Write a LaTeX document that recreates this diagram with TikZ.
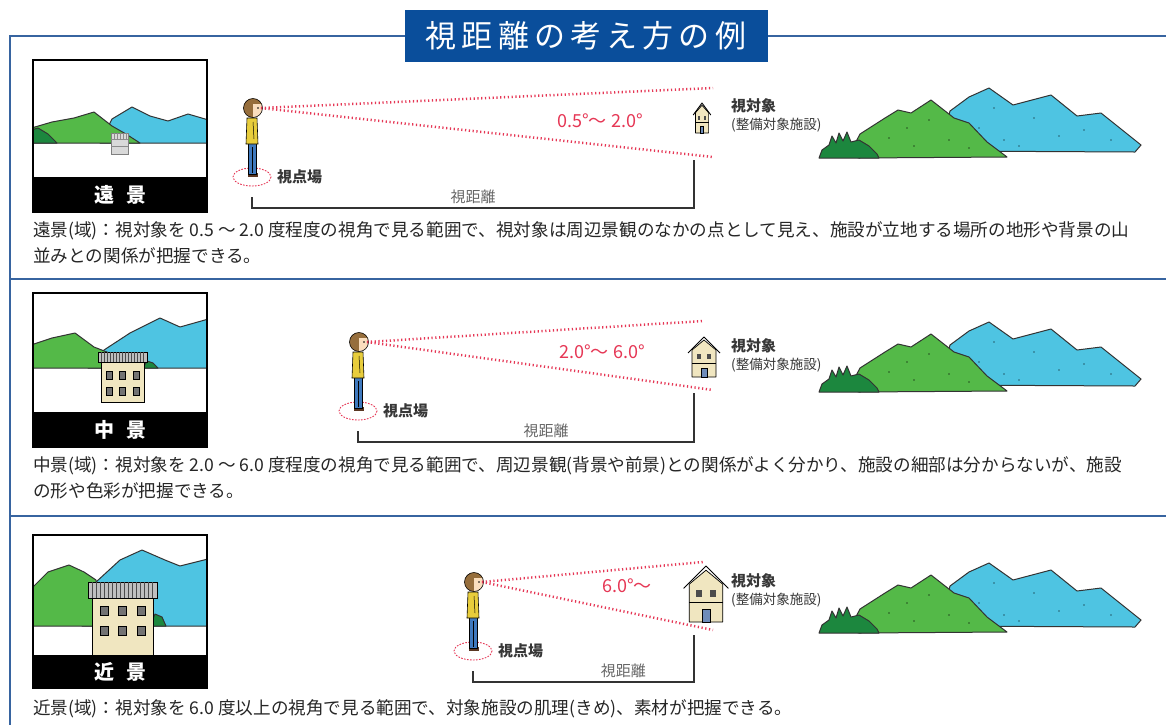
\documentclass[tikz,border=0pt]{standalone}
\usepackage{fontspec}
\setmainfont{Noto Sans CJK JP}
\usetikzlibrary{positioning}

\definecolor{frameblue}{RGB}{55,100,160}
\definecolor{titleblue}{RGB}{10,78,155}
\definecolor{hillgreen}{RGB}{84,185,72}
\definecolor{bushgreen}{RGB}{28,135,62}
\definecolor{hillblue}{RGB}{78,196,226}
\definecolor{sightred}{RGB}{230,55,85}
\definecolor{wallbeige}{RGB}{240,230,192}
\definecolor{jacket}{RGB}{232,205,60}
\definecolor{jeans}{RGB}{63,121,190}
\definecolor{hair}{RGB}{150,110,60}
\definecolor{skin}{RGB}{250,222,190}
\definecolor{shoe}{RGB}{90,55,35}
\definecolor{doorblue}{RGB}{110,140,185}
\definecolor{textgray}{RGB}{55,55,55}

\tikzset{
  % standing person, origin at the feet
  viewer/.pic={
    \draw[sightred, line width=0.9pt, dash pattern=on 1.6pt off 1.4pt] (0,0) ellipse (19 and 9);
    \coordinate (-ring) at (19,0);
    \coordinate (-post) at (0,20);
    \coordinate (-eye) at (9,-69);
    \fill[shoe] (-4,-4) rectangle (6,0);
    \draw[fill=jeans, line width=0.6pt] (-4,-35) rectangle (4,-3);
    \draw[line width=0.4pt] (0,-30) -- (0,-4);
    \draw[fill=jacket, line width=0.6pt] (-5,-59) -- (5,-59) -- (6,-33) -- (-6,-33) -- cycle;
    \draw[line width=0.5pt] (1,-55) -- (2,-38);
    \begin{scope}
      \clip (1,-69) circle (9.5);
      \fill[skin] (-9,-80) rectangle (11,-58);
      \fill[hair] (-9,-80) rectangle (11,-73);
      \fill[hair] (-9,-80) rectangle (1,-58);
    \end{scope}
    \draw[line width=0.6pt] (1,-69) circle (9.5);
    \fill (6,-69) circle (0.9);
  },
  % small two-storey house, origin at the bottom centre
  house/.pic={
    \draw[fill=wallbeige, line width=0.7pt, line join=round] (-12,0) -- (-12,-27) -- (0,-37) -- (12,-27) -- (12,0) -- cycle;
    \draw[line width=0.7pt] (-12,-14) -- (12,-14);
    \draw[line width=0.9pt, line join=round] (-16,-24) -- (0,-40) -- (16,-24);
    \fill[black!70] (-7,-23) rectangle (-3,-18);
    \fill[black!70] (3,-23) rectangle (7,-18);
    \draw[fill=doorblue, line width=0.5pt] (-3,0) rectangle (3,-9);
  },
  % hills behind the facility, origin at the left foot of the bush
  ridge/.pic={
    \draw[hill, fill=hillblue] (120,-7) -- (131,-47) -- (150,-61) -- (170,-70) -- (194,-53) -- (213,-58)
      -- (232,-63) -- (258,-42) -- (282,-45) -- (322,-13) -- (316,-6) -- cycle;
    \foreach \p in {(160,-30),(185,-18),(215,-40),(240,-22),(265,-28),(292,-18),(200,-12),(175,-50)}
      \fill[hillblue!50!black] \p circle (0.9);
    \draw[hill, fill=hillgreen] (30,-3) -- (41,-24) -- (66,-40) -- (79,-48) -- (92,-45) -- (112,-58)
      -- (135,-40) -- (150,-35) -- (168,-16) -- (188,-1) -- (40,0) -- cycle;
    \foreach \p in {(70,-20),(95,-12),(110,-38),(130,-18),(150,-10),(88,-30)}
      \fill[hillgreen!45!black] \p circle (0.9);
    \draw[hill, fill=bushgreen] (0,0) -- (3,-8) -- (10,-13) -- (13,-22) -- (17,-15) -- (20,-25) -- (24,-17)
      -- (28,-26) -- (32,-16) -- (40,-18) -- (50,-12) -- (58,-4) -- (60,0) -- cycle;
  }
}

\begin{document}
\begin{tikzpicture}[x=1pt, y=-1pt,
    rule/.style={draw=frameblue, line width=2.4pt},
    thumb/.style={draw=black, line width=1.6pt},
    hill/.style={draw=black!80, line width=1pt, line join=round},
    sight/.style={draw=sightred, line width=2.5pt, dash pattern=on 1.2pt off 2.6pt},
    gauge/.style={draw=black!80, line width=1.2pt},
    title/.style={fill=titleblue, text=white, minimum width=363pt, minimum height=52pt, inner sep=0pt,
      font=\fontsize{31}{31}\selectfont},
    badge/.style={text=white, font=\fontsize{20}{20}\selectfont\bfseries},
    spread/.style={text=sightred, font=\fontsize{18}{18}\selectfont},
    tag/.style={text=textgray, inner sep=1pt, font=\fontsize{15}{15}\selectfont\bfseries},
    dist/.style={text=black!60, inner sep=1pt, font=\fontsize{15}{15}\selectfont},
    obj/.style={text=textgray, inner sep=0pt, font=\fontsize{15}{15}\selectfont\bfseries},
    sub/.style={text=textgray, inner sep=0pt, font=\fontsize{13.5}{15}\selectfont},
    desc/.style={text=black!85, inner sep=0pt, align=left, font=\fontsize{17.6}{26}\selectfont}]

  \useasboundingbox (0,0) rectangle (1166,724);
  \fill[white] (0,0) rectangle (1166,724);

  % frame and heading
  \draw[rule] (1170,36) -- (10,36) -- (10,730);
  \draw[rule] (10,279) -- (1170,279);
  \draw[rule] (10,516) -- (1170,516);
  \node[title] (title) at (586,36) {視\,距\,離\,の\,考\,え\,方\,の\,例};

  % ---------- 遠景
  \begin{scope}
    \clip (33,60) rectangle (207,177);
    \draw[hill, fill=hillblue] (100,143) -- (112,119) -- (132,107) -- (150,116) -- (168,121) -- (188,114) -- (212,121) -- (212,143) -- cycle;
    \draw[hill, fill=hillgreen] (28,129) -- (52,122) -- (74,118) -- (94,112) -- (112,126) -- (126,134) -- (140,143) -- (28,143) -- cycle;
    \draw[hill, fill=bushgreen] (28,131) -- (38,128) -- (48,134) -- (57,143) -- (28,143) -- cycle;
    \draw[fill=black!15, draw=black!50, line width=0.5pt] (111,133) rectangle (128,154);
    \foreach \x in {114,117,...,126} \draw[black!45, line width=0.4pt] (\x,133) -- (\x,139);
    \draw[black!45, line width=0.4pt] (111,139) -- (128,139) (111,146) -- (128,146);
  \end{scope}
  \fill[black] (33,177) rectangle (207,212);
  \draw[thumb] (33,60) rectangle (207,212);
  \node[badge] (b1) at (120,194.5) {遠\hspace{0.6em}景};

  \pic (v1) at (252,177) {viewer};
  \pic[xscale=0.55, yscale=0.75] (h1) at (702,133) {house};
  \pic (m1) at (819,158) {ridge};
  \coordinate (s1a) at (713,88);
  \coordinate (s1b) at (713,157);
  \coordinate (r1) at (694,160);
  \draw[sight] (v1-eye) -- (s1a);
  \draw[sight] (v1-eye) -- (s1b);
  \node[spread] (a1) at (600,121) {0.5°～ 2.0°};
  \node[tag, right=5pt of v1-ring] (p1) {視点場};
  \draw[gauge] (v1-post) -- ++(0,11) -| node[pos=0.25, above=3pt, dist] (d1) {視距離} (r1);
  \node[obj, anchor=west] (o1) at (731,106) {視対象};
  \node[sub, below=4pt of o1.south west, anchor=north west] (o1s) {(整備対象施設)};
  \node[desc, anchor=north west] (n1) at (33,221)
    {遠景(域)：視対象を 0.5 ～ 2.0 度程度の視角で見る範囲で、視対象は周辺景観のなかの点として見え、施設が立地する場所の地形や背景の山\\並みとの関係が把握できる。};

  % ---------- 中景
  \begin{scope}
    \clip (33,293) rectangle (207,412);
    \draw[hill, fill=hillblue] (88,368) -- (104,350) -- (130,333) -- (160,318) -- (180,327) -- (212,318) -- (212,368) -- cycle;
    \draw[hill, fill=hillgreen] (28,346) -- (52,338) -- (75,333) -- (94,347) -- (112,354) -- (130,360) -- (144,368) -- (28,368) -- cycle;
    \draw[hill, fill=bushgreen] (143,368) -- (147,361) -- (153,363) -- (158,368) -- cycle;
    \draw[fill=wallbeige, line width=0.8pt] (101,362) rectangle (144,402);
    \draw[fill=black!25, line width=0.8pt] (98,352) rectangle (147,362);
    \foreach \x in {101,104,...,144} \draw[black!70, line width=0.6pt] (\x,352) -- (\x,362);
    \foreach \x in {109,122.5,136} {
      \draw[fill=black!55, line width=0.5pt] (\x-3,371) rectangle (\x+3,379);
      \draw[fill=black!55, line width=0.5pt] (\x-3,387) rectangle (\x+3,395);
    }
  \end{scope}
  \fill[black] (33,412) rectangle (207,447);
  \draw[thumb] (33,293) rectangle (207,447);
  \node[badge] (b2) at (120,429.5) {中\hspace{0.6em}景};

  \pic (v2) at (358,411) {viewer};
  \pic (h2) at (704,377) {house};
  \pic (m2) at (819,392) {ridge};
  \coordinate (s2a) at (703,321);
  \coordinate (s2b) at (713,390);
  \coordinate (r2) at (694,393);
  \draw[sight] (v2-eye) -- (s2a);
  \draw[sight] (v2-eye) -- (s2b);
  \node[spread] (a2) at (602,352) {2.0°～ 6.0°};
  \node[tag, right=5pt of v2-ring] (p2) {視点場};
  \draw[gauge] (v2-post) -- ++(0,11) -| node[pos=0.28, above=3pt, dist] (d2) {視距離} (r2);
  \node[obj, anchor=west] (o2) at (731,346) {視対象};
  \node[sub, below=4pt of o2.south west, anchor=north west] (o2s) {(整備対象施設)};
  \node[desc, anchor=north west] (n2) at (33,456)
    {中景(域)：視対象を 2.0 ～ 6.0 度程度の視角で見る範囲で、周辺景観(背景や前景)との関係がよく分かり、施設の細部は分からないが、施設\\の形や色彩が把握できる。};

  % ---------- 近景
  \begin{scope}
    \clip (33,535) rectangle (207,655);
    \draw[hill, fill=hillblue] (82,626) -- (96,582) -- (120,560) -- (142,550) -- (165,560) -- (180,566) -- (212,558) -- (212,626) -- cycle;
    \draw[hill, fill=hillgreen] (28,592) -- (48,572) -- (69,565) -- (84,572) -- (96,580) -- (96,626) -- (28,626) -- cycle;
    \draw[hill, fill=bushgreen] (150,626) -- (155,614) -- (162,617) -- (166,626) -- cycle;
    \draw[fill=wallbeige, line width=0.8pt] (92,598) rectangle (153,660);
    \draw[fill=black!25, line width=0.8pt] (88,582) rectangle (157,598);
    \foreach \x in {92,96,...,153} \draw[black!70, line width=0.7pt] (\x,582) -- (\x,598);
    \foreach \x in {104,122.5,141} {
      \draw[fill=black!55, line width=0.6pt] (\x-4,606) rectangle (\x+4,615);
      \draw[fill=black!55, line width=0.6pt] (\x-4,626) rectangle (\x+4,635);
    }
  \end{scope}
  \fill[black] (33,655) rectangle (207,688);
  \draw[thumb] (33,535) rectangle (207,688);
  \node[badge] (b3) at (120,671.5) {近\hspace{0.6em}景};

  \pic (v3) at (473,651) {viewer};
  \pic[scale=1.4] (h3) at (706,622) {house};
  \pic (m3) at (819,633) {ridge};
  \coordinate (s3a) at (703,562);
  \coordinate (s3b) at (713,630);
  \coordinate (r3) at (694,635);
  \draw[sight] (v3-eye) -- (s3a);
  \draw[sight] (v3-eye) -- (s3b);
  \node[spread] (a3) at (627,586) {6.0°～};
  \node[tag, right=5pt of v3-ring] (p3) {視点場};
  \draw[gauge] (v3-post) -- ++(0,11) -| node[pos=0.34, above=3pt, dist] (d3) {視距離} (r3);
  \node[obj, anchor=west] (o3) at (731,581) {視対象};
  \node[sub, below=4pt of o3.south west, anchor=north west] (o3s) {(整備対象施設)};
  \node[desc, anchor=north west] (n3) at (33,699)
    {近景(域)：視対象を 6.0 度以上の視角で見る範囲で、対象施設の肌理(きめ)、素材が把握できる。};
\end{tikzpicture}
\end{document}
